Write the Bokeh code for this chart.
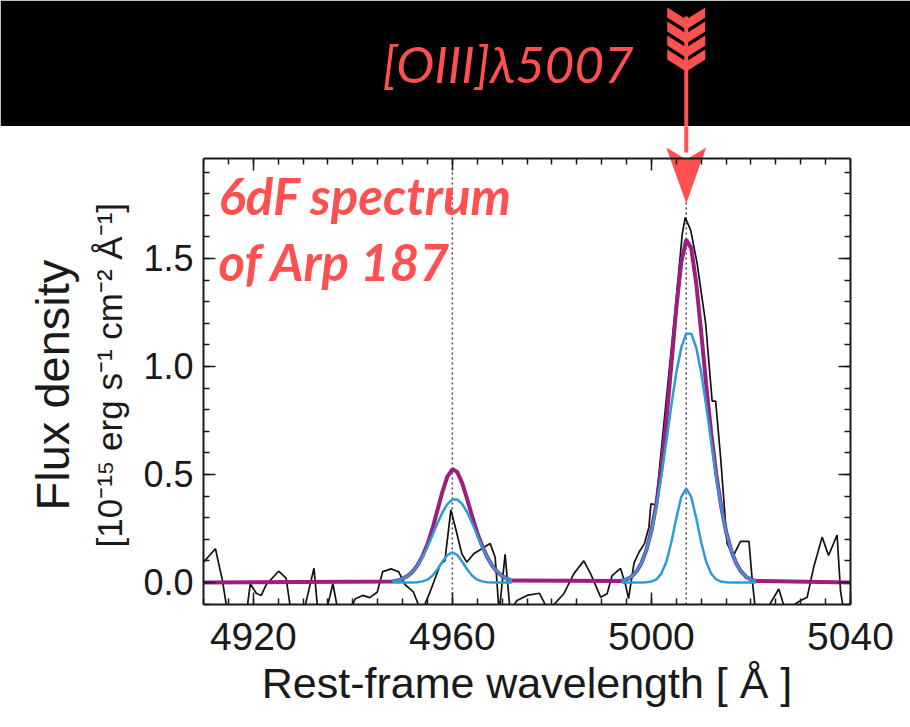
import numpy as np
from bokeh.plotting import figure
from bokeh.models import (Range1d, LinearAxis, SingleIntervalTicker, FixedTicker,
                          NumeralTickFormatter)
from bokeh.layouts import column
from bokeh.core.properties import value
from bokeh.embed import file_html
from bokeh.resources import INLINE

# ---------------- data ----------------
spec_wave = [4910.0, 4912.4, 4913.8, 4914.9, 4916.8, 4918.7, 4919.4, 4920.6, 4921.6, 4922.6,
             4925.1, 4926.6, 4927.6, 4930.2, 4932.2, 4933.0, 4934.8, 4936.0, 4937.0, 4939.2,
             4940.5, 4942.0, 4943.4, 4944.9, 4946.0, 4947.7, 4949.2, 4950.5, 4952.2, 4953.8,
             4955.5, 4957.6, 4958.5, 4959.7, 4960.6, 4961.9, 4962.9, 4964.3, 4965.9, 4967.6,
             4968.6, 4969.4, 4970.6, 4971.6, 4973.0, 4975.0, 4977.5, 4979.3, 4982.4, 4984.4,
             4986.4, 4987.8, 4989.8, 4991.1, 4992.1, 4993.8, 4994.8, 4995.4, 4996.5, 4997.5,
             4998.6, 4999.5, 4999.9, 5000.9, 5002.5, 5004.5, 5006.2, 5006.8, 5007.9, 5009.2,
             5010.9, 5012.2, 5012.9, 5013.9, 5015.2, 5016.5, 5017.9, 5019.6, 5020.2, 5020.9,
             5023.3, 5025.6, 5026.9, 5030.0, 5031.3, 5032.6, 5034.3, 5035.6, 5037.3, 5038.0,
             5038.7, 5040.0]
spec_flux = [0.094, 0.156, 0.010, -0.15, -0.14, -0.13, -0.006, -0.05, -0.06, -0.01,
             0.052, 0.020, -0.14, -0.13, 0.066, -0.14, -0.12, -0.006, -0.13, -0.14,
             -0.075, -0.06, -0.07, -0.045, 0.050, 0.063, 0.050, -0.010, -0.045, -0.14,
             -0.045, 0.085, 0.100, 0.336, 0.256, 0.133, 0.094, 0.133, 0.156, 0.180,
             0.117, -0.14, 0.130, -0.13, -0.083, -0.060, -0.050, -0.13, -0.052, 0.040,
             0.100, 0.040, -0.068, -0.052, 0.032, 0.065, -0.010, -0.075, 0.090, 0.140,
             0.180, 0.256, 0.364, 0.360, 0.735, 1.198, 1.614, 1.690, 1.630, 1.475,
             1.198, 0.840, 0.840, 0.580, 0.180, 0.125, 0.190, 0.190, 0.025, -0.13,
             -0.12, -0.030, -0.13, -0.083, -0.068, 0.070, 0.210, 0.125, 0.220, -0.040,
             -0.14, -0.14]

line_centres = [4960, 5007]          # dotted reference lines ([OIII] 4959, 5007)

fit_wave_4959 = list(range(4948, 4973))
broad_4959 = [0.005, 0.009, 0.017, 0.030, 0.050, 0.079, 0.117, 0.164, 0.218, 0.274,
              0.324, 0.363, 0.384, 0.384, 0.363, 0.324, 0.274, 0.218, 0.164, 0.117,
              0.079, 0.050, 0.030, 0.017, 0.009]
narrow_4959 = [0.0, 0.0, 0.0, 0.0, 0.0, 0.001, 0.005, 0.013, 0.031, 0.060,
               0.096, 0.127, 0.140, 0.127, 0.096, 0.060, 0.031, 0.013, 0.005, 0.001,
               0.0, 0.0, 0.0, 0.0, 0.0]

fit_wave_5007 = list(range(4994, 5022))
broad_5007 = [0.007, 0.014, 0.027, 0.051, 0.090, 0.150, 0.235, 0.350, 0.492, 0.653,
              0.820, 0.972, 1.088, 1.152, 1.152, 1.088, 0.972, 0.820, 0.653, 0.492,
              0.350, 0.235, 0.150, 0.090, 0.051, 0.027, 0.014, 0.007]
narrow_5007 = [0.0, 0.0, 0.0, 0.0, 0.0, 0.001, 0.004, 0.014, 0.041, 0.096,
               0.186, 0.298, 0.396, 0.435, 0.396, 0.298, 0.186, 0.096, 0.041, 0.014,
               0.004, 0.001, 0.0, 0.0, 0.0, 0.0, 0.0, 0.0]

X_RANGE = (4910, 5040)
Y_BOTTOM, Y_TOP = -0.102, 1.963     # plot box
X_MAJOR, X_MINOR_N = 40, 8
Y_MAJOR, Y_MINOR_N = 0.5, 5

title_text = "[OIII]\u03bb5007"
note_lines = ["6dF spectrum", "of Arp 187"]
x_label = "Rest-frame wavelength [ \u00c5 ]"
y_label = "Flux density"
y_unit = "[10\u207b\u00b9\u2075 erg s\u207b\u00b9 cm\u207b\u00b2 \u00c5\u207b\u00b9]"

# ---------------- styling / layout ----------------
RED = "#FF5050"
MAGENTA = "#9C1F80"
BLUE = "#2E9BD6"
INK = "#1A1A1A"
AXFONT = "Liberation Sans"
NBSP = "\u00a0"

W = 910
BAND_H = 126                 # black band height
BAND_TOP_PAD = 3
MAIN_H = 727 - BAND_H
LB, RB, BB = 203, 60, 123
BOX_TOP = 158                # page y of the plot box top
FW = W - LB - RB
FH = MAIN_H - BB
ppa = FW / (X_RANGE[1] - X_RANGE[0])
ppf = (604 - BOX_TOP) / (Y_TOP - Y_BOTTOM)
Y_RANGE = (Y_BOTTOM, Y_BOTTOM + FH / ppf)   # frame extends up to the band


def xd(X):  # page pixel -> wavelength (decorations only)
    return X_RANGE[0] + (X - LB) / ppa


def yd(Y):  # page pixel -> flux (decorations only)
    return Y_RANGE[1] - (Y - BAND_H) / ppf


# ---------------- top black band ----------------
ph = figure(width=W, height=BAND_H, x_range=Range1d(*X_RANGE),
            y_range=Range1d(yd(BAND_H), yd(BAND_TOP_PAD)),
            min_border_left=LB, min_border_right=RB, min_border_top=BAND_TOP_PAD,
            min_border_bottom=0,
            x_axis_location=None, y_axis_location=None,
            toolbar_location=None, output_backend="svg",
            background_fill_color="black", border_fill_color="black",
            outline_line_color="black", outline_line_width=3)
ph.grid.visible = False

ax_x = line_centres[1]
dxc = 19 / ppa
dxh = 20 / ppa
ph.segment(x0=ax_x, y0=yd(16), x1=ax_x, y1=yd(BAND_H + 4), line_color=RED, line_width=4)
for y0 in [7, 21, 35, 49]:
    ph.patch(x=[ax_x - dxc, ax_x, ax_x + dxc, ax_x + dxc, ax_x, ax_x - dxc],
             y=[yd(y0), yd(y0 + 12), yd(y0), yd(y0 + 10), yd(y0 + 22), yd(y0 + 10)],
             color=RED, line_width=0)
ph.text(x=[xd(382)], y=[yd(63)], text=[title_text], text_font=value("Lato"),
        text_font_style="italic", text_font_size="51px", text_color=RED,
        text_align="left", text_baseline="alphabetic")

# ---------------- main spectrum plot ----------------
p = figure(width=W, height=MAIN_H, x_range=Range1d(*X_RANGE), y_range=Range1d(*Y_RANGE),
           min_border_left=LB, min_border_right=RB, min_border_top=0, min_border_bottom=BB,
           toolbar_location=None, output_backend="svg",
           background_fill_color="white", border_fill_color="white",
           outline_line_color=None)
p.grid.visible = False


def style_ticks(ax, ticker):
    ax.ticker = ticker
    ax.axis_line_color = INK
    ax.axis_line_width = 2
    ax.major_tick_line_color = INK
    ax.major_tick_line_width = 1.5
    ax.major_tick_in = 12
    ax.major_tick_out = 0
    ax.minor_tick_line_color = INK
    ax.minor_tick_line_width = 1.5
    ax.minor_tick_in = 6
    ax.minor_tick_out = 0


xa = p.below[0]
style_ticks(xa, SingleIntervalTicker(interval=X_MAJOR, num_minor_ticks=X_MINOR_N))
xa.major_label_text_font = AXFONT
xa.major_label_text_font_size = "39px"
xa.major_label_text_color = INK
xa.major_label_standoff = 18
xa.axis_label = x_label
xa.axis_label_text_font = AXFONT
xa.axis_label_text_font_size = "43px"
xa.axis_label_text_font_style = "normal"
xa.axis_label_text_color = INK
xa.axis_label_standoff = 6

ya = p.left[0]
style_ticks(ya, SingleIntervalTicker(interval=Y_MAJOR, num_minor_ticks=Y_MINOR_N))
ya.bounds = (Y_BOTTOM, Y_TOP)
ya.formatter = NumeralTickFormatter(format="0.0")
ya.major_label_text_font = AXFONT
ya.major_label_text_font_size = "36px"
ya.major_label_text_color = INK
ya.major_label_standoff = 10

top_ax = LinearAxis(fixed_location=Y_TOP)
style_ticks(top_ax, SingleIntervalTicker(interval=X_MAJOR, num_minor_ticks=X_MINOR_N))
top_ax.major_label_text_font_size = "0px"
top_ax.major_label_text_color = None
top_ax.major_label_standoff = 0
p.add_layout(top_ax, "above")

right_ax = LinearAxis(bounds=(Y_BOTTOM, Y_TOP))
style_ticks(right_ax, SingleIntervalTicker(interval=Y_MAJOR, num_minor_ticks=Y_MINOR_N))
right_ax.major_label_text_font_size = "0px"
right_ax.major_label_text_color = None
right_ax.major_label_standoff = 0
p.add_layout(right_ax, "right")


def label_axis(text, size, standoff):
    a = LinearAxis(ticker=FixedTicker(ticks=[]), axis_label=text, bounds=(Y_BOTTOM, Y_TOP))
    a.axis_line_color = None
    a.major_tick_line_color = None
    a.minor_tick_line_color = None
    a.major_label_standoff = 0
    a.major_label_text_font_size = "0px"
    a.major_label_text_color = None
    a.axis_label_text_font = AXFONT
    a.axis_label_text_font_size = size
    a.axis_label_text_font_style = "normal"
    a.axis_label_text_color = INK
    a.axis_label_standoff = standoff
    return a


# trailing no-break spaces centre the rotated labels on the plot box, not the frame
p.add_layout(label_axis(y_unit + NBSP * 2, "35px", 12), "left")
p.add_layout(label_axis(y_label + NBSP * 3, "47px", 8), "left")

# dotted reference lines inside the plot box
p.segment(x0=line_centres, y0=[Y_BOTTOM] * len(line_centres), x1=line_centres,
          y1=[Y_TOP] * len(line_centres), line_color="#444444", line_dash="2 3",
          line_width=1.5)

p.line(spec_wave, spec_flux, line_color="#111111", line_width=1.7)

tot_w = [X_RANGE[0]] + fit_wave_4959 + fit_wave_5007 + [X_RANGE[1]]
tot_f = ([0.0] + [b + n for b, n in zip(broad_4959, narrow_4959)]
         + [b + n for b, n in zip(broad_5007, narrow_5007)] + [0.0])
p.line(tot_w, tot_f, line_color=MAGENTA, line_width=4)

for w, comp in [(fit_wave_4959, broad_4959), (fit_wave_4959, narrow_4959),
                (fit_wave_5007, broad_5007), (fit_wave_5007, narrow_5007)]:
    p.line(w, comp, line_color=BLUE, line_width=2.5)

# arrow continuing from the band into the plot
p.segment(x0=ax_x, y0=yd(BAND_H - 4), x1=ax_x, y1=yd(152), line_color=RED, line_width=4)
p.patch(x=[ax_x - dxh, ax_x, ax_x + dxh, ax_x],
        y=[yd(147), yd(159), yd(147), yd(203)], color=RED, line_width=0)

p.text(x=[xd(218), xd(218)], y=[yd(195), yd(261)], text=note_lines,
       text_font=value("Lato"), text_font_style="bold italic", text_font_size="51px",
       text_color=RED, text_align="left", text_baseline="alphabetic")

layout = column(ph, p, spacing=0)
open("out.html", "w").write(file_html(layout, INLINE))
